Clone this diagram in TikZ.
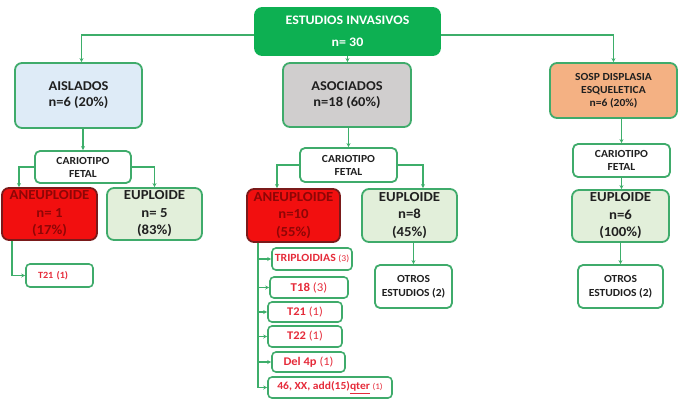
\documentclass[tikz,border=0pt]{standalone}
\usepackage{fontspec}
\setmainfont{Carlito}[FakeStretch=1.07]
\usetikzlibrary{arrows.meta}
\definecolor{gborder}{HTML}{3FAB6B}
\definecolor{gline}{HTML}{3DAE6A}
\definecolor{topfill}{HTML}{0DB052}
\definecolor{aisfill}{HTML}{DEEBF7}
\definecolor{asofill}{HTML}{D0CECE}
\definecolor{sospfill}{HTML}{F4B183}
\definecolor{eupfill}{HTML}{E2EFDA}
\definecolor{aneufill}{HTML}{F20F0F}
\definecolor{aneuborder}{HTML}{7A1A1A}
\definecolor{aneutext}{HTML}{8E0606}
\definecolor{redtext}{HTML}{E52B3A}
\definecolor{darktext}{HTML}{202020}
\newcommand{\fsz}[1]{\fontsize{#1}{#1}\selectfont}
\begin{document}
\begin{tikzpicture}[x=1pt,y=-1pt,
  box/.style={draw=gborder, line width=1.8pt, rounded corners=7pt, align=center, inner sep=0pt, text=darktext},
  bigtxt/.style={font={\fontsize{13.5}{16}\selectfont\bfseries}},
  cartxt/.style={font={\fontsize{10.8}{13}\selectfont\bfseries}},
  restxt/.style={font={\fontsize{13.8}{17.5}\selectfont\bfseries}},
  small/.style={draw=gborder, line width=1.6pt, rounded corners=4pt, align=center, inner sep=0pt, text=redtext, font={\bfseries}},
  eupbox/.style={box, fill=eupfill, restxt},
  aneubox/.style={box, fill=aneufill, draw=aneuborder, text=aneutext, restxt},
  carbox/.style={box, fill=white, cartxt, rounded corners=5pt},
  otrbox/.style={box, fill=white, font={\fontsize{10.8}{14}\selectfont\bfseries}, rounded corners=5pt},
  conn/.style={draw=gline, line width=1.6pt, -{Stealth[length=4pt,width=4pt]}}
]
\useasboundingbox (0,0) rectangle (687,400);

% top
\node[box, fill=topfill, draw=topfill, text=white, font={\fontsize{13}{22}\selectfont\bfseries}, minimum width=185pt, minimum height=47pt] (top) at (347.5,31.5) {ESTUDIOS INVASIVOS\\n= 30};

% level 1
\node[box, fill=aisfill, bigtxt, minimum width=127pt, minimum height=65pt] (ais) at (78.5,95.5) {AISLADOS\\n=6 (20\%)};
\node[box, fill=asofill, bigtxt, minimum width=128pt, minimum height=64pt] (aso) at (347,95) {ASOCIADOS\\n=18 (60\%)};
\node[box, fill=sospfill, cartxt, minimum width=127pt, minimum height=55pt] (sosp) at (613.5,90.5) {SOSP DISPLASIA\\ESQUELETICA\\n=6 (20\%)};

% cariotipo
\node[carbox, minimum width=96pt, minimum height=32pt] (cario1) at (83,167) {CARIOTIPO\\FETAL};
\node[carbox, minimum width=97pt, minimum height=34pt] (cario2) at (348.5,165) {CARIOTIPO\\FETAL};
\node[carbox, minimum width=97pt, minimum height=33pt] (cario3) at (621.5,160.5) {CARIOTIPO\\FETAL};

% results
\node[aneubox, minimum width=95pt, minimum height=52pt] (aneu1) at (49.5,214) {ANEUPLOIDE\\n= 1\\(17\%)};
\node[eupbox, minimum width=95pt, minimum height=52pt] (eup1) at (154.5,214) {EUPLOIDE\\n= 5\\(83\%)};
\node[aneubox, minimum width=93pt, minimum height=53pt] (aneu2) at (293.5,215.5) {ANEUPLOIDE\\n=10\\(55\%)};
\node[eupbox, minimum width=95pt, minimum height=53pt] (eup2) at (409.5,215.5) {EUPLOIDE\\n=8\\(45\%)};
\node[eupbox, minimum width=97pt, minimum height=52pt] (eup3) at (620.5,216) {EUPLOIDE\\n=6\\(100\%)};

% small boxes
\node[small, minimum width=67pt, minimum height=23pt, text width=43pt, align=left] (t21a) at (59.5,275.5) {\fsz{9.5}T21 (1)};
\node[small, minimum width=80pt, minimum height=22pt] (trip) at (312,259) {\fsz{11}TRIPLOIDIAS {\mdseries\fsz{9}(3)}};
\node[small, minimum width=78pt, minimum height=21pt] (t18) at (309,287.5) {\fsz{12}T18 {\mdseries(3)}};
\node[small, minimum width=74pt, minimum height=20pt] (t21b) at (305,312) {\fsz{11.7}T21 {\mdseries(1)}};
\node[small, minimum width=74pt, minimum height=21pt] (t22) at (305,336.5) {\fsz{11.7}T22 {\mdseries(1)}};
\node[small, minimum width=73pt, minimum height=20pt] (del) at (308.5,362) {\fsz{11.7}Del 4p {\mdseries(1)}};
\node[small, minimum width=124pt, minimum height=21pt] (add) at (330,387.5) {\fsz{10.8}46, XX, add(15)\underline{qter} {\mdseries\fsz{8.5}(1)}};

% otros
\node[otrbox, minimum width=77pt, minimum height=43pt] (otros2) at (413.5,286.5) {OTROS\\ESTUDIOS (2)};
\node[otrbox, minimum width=85pt, minimum height=43pt] (otros3) at (620.5,286.5) {OTROS\\ESTUDIOS (2)};

% helper coordinates
\coordinate (bx1) at (19,0);
\coordinate (sp1) at (12,0);
\coordinate (bx2l) at (277,0);
\coordinate (bx2r) at (423,0);
\coordinate (sp2) at (258,0);

% connectors
\draw[conn] ([yshift=-3.5pt]top.west) -| ([xshift=3pt]ais.north);
\draw[conn] ([yshift=-3.5pt]top.east) -| (sosp.north);
\draw[conn] (top.south) -- (top.south |- aso.north);

\draw[conn] (ais.south -| cario1.north) -- (cario1.north);
\draw[conn] (cario1.west) -| (aneu1.north -| bx1);
\draw[conn] (cario1.east) -| (eup1.north);
\draw[conn] (aneu1.south -| sp1) |- (t21a.west);

\draw[conn] (aso.south -| cario2.north) -- (cario2.north);
\draw[conn] (cario2.west) -| (aneu2.north -| bx2l);
\draw[conn] (cario2.east) -| (eup2.north -| bx2r);
\foreach \b in {trip,t18,t21b,t22,del,add}
  \draw[conn] (aneu2.south -| sp2) |- (\b.west);
\draw[conn] (eup2.south -| otros2.north) -- (otros2.north);

\draw[conn] (sosp.south -| cario3.north) -- (cario3.north);
\draw[conn] (cario3.south) -- (cario3.south |- eup3.north);
\draw[conn] (eup3.south) -- (eup3.south |- otros3.north);
\end{tikzpicture}
\end{document}
